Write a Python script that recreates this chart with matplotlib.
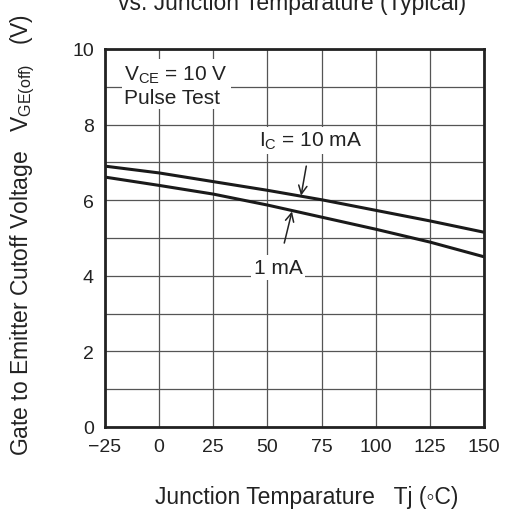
import matplotlib.pyplot as plt

plt.rcParams['font.family'] = ['Liberation Sans', 'DejaVu Sans']

# data
temps = [-25, 0, 25, 50, 75, 100, 125, 150]
v_10ma = [6.90, 6.72, 6.49, 6.26, 6.01, 5.73, 5.45, 5.15]
v_1ma = [6.61, 6.39, 6.16, 5.87, 5.55, 5.23, 4.89, 4.50]
xticks = [-25, 0, 25, 50, 75, 100, 125, 150]
xticklabels = ['\u221225', '0', '25', '50', '75', '100', '125', '150']
yticks = [0, 2, 4, 6, 8, 10]

fig = plt.figure(figsize=(5.07, 5.10), dpi=100)
ax = fig.add_axes([0.207, 0.161, 0.748, 0.741])

ax.plot(temps, v_10ma, color='#1a1a1a', lw=2.2)
ax.plot(temps, v_1ma, color='#1a1a1a', lw=2.2)

ax.set_xlim(-25, 150)
ax.set_ylim(0, 10)
ax.set_xticks(xticks)
ax.set_xticklabels(xticklabels)
ax.set_yticks(yticks)
ax.set_yticks([1, 3, 5, 7, 9], minor=True)
ax.tick_params(which='both', length=0, labelsize=14, pad=8, colors='#222222')
ax.grid(True, which='both', color='#555555', lw=0.9)
for s in ax.spines.values():
    s.set_linewidth(2)
    s.set_color('#222222')

box = dict(facecolor='white', edgecolor='none', pad=2)
ax.text(-16, 9.62, '$\\mathregular{V_{CE}}$ = 10 V\nPulse Test', fontsize=15,
        va='top', ha='left', linespacing=1.2, bbox=box, color='#222222')
ax.annotate('$\\mathregular{I_C}$ = 10 mA', xy=(65.5, 6.12), xytext=(70, 7.58),
            fontsize=15, ha='center', va='center', bbox=box, color='#222222',
            arrowprops=dict(arrowstyle='->', color='#222222', lw=1.1,
                            shrinkA=9, shrinkB=0))
ax.annotate('1 mA', xy=(61.3, 5.7), xytext=(55, 4.22),
            fontsize=15, ha='center', va='center', bbox=box, color='#222222',
            arrowprops=dict(arrowstyle='->', color='#222222', lw=1.1,
                            shrinkA=9, shrinkB=0))

fig.text(0.605, 0.025, 'Junction Temparature   Tj (\u25e6C)', fontsize=16.5,
         ha='center', va='center', color='#222222')
fig.text(0.045, 0.54, 'Gate to Emitter Cutoff Voltage   $\\mathregular{V_{GE(off)}}$   (V)',
         rotation=90, fontsize=16.5, ha='center', va='center', color='#222222')
fig.text(0.577, 0.993, 'vs. Junction Temparature (Typical)', fontsize=16.5,
         ha='center', va='center', color='#222222')

fig.savefig('out.png', dpi=100)
